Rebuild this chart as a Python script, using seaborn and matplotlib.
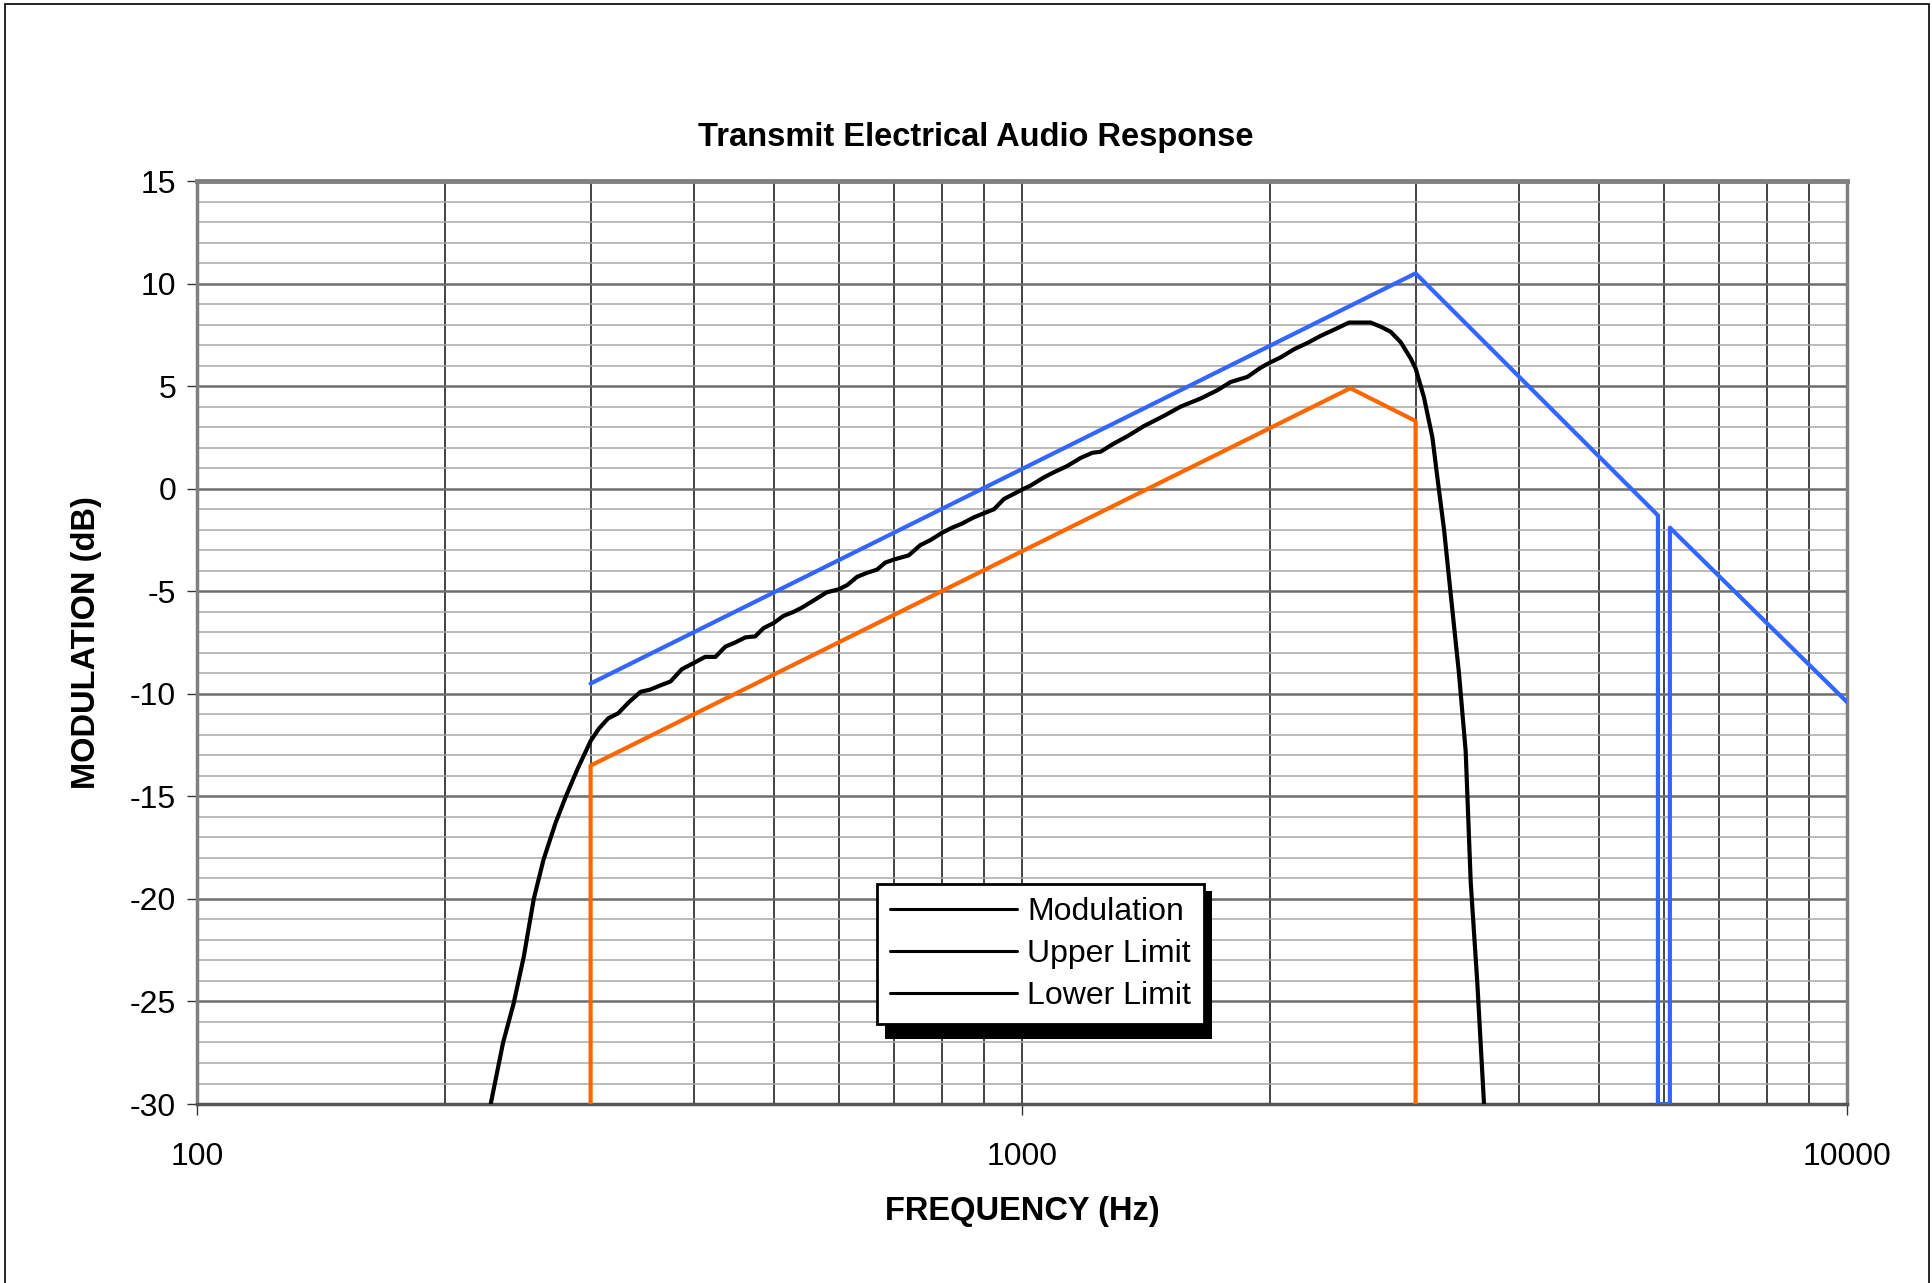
import numpy as np
import pandas as pd
import matplotlib
matplotlib.use('Agg')
import matplotlib.pyplot as plt
import matplotlib.patches as patches
from matplotlib.lines import Line2D
from matplotlib.ticker import LogLocator, NullFormatter
import seaborn as sns

# Values
mod_freq = [227, 235, 242, 249, 256, 263, 272, 280, 289, 300, 307, 315, 324, 334,
            345, 354, 364, 375, 387, 400, 413, 425, 437, 449, 462, 475, 486, 500,
            514, 529, 541, 559, 580, 600, 614, 631, 649, 667, 683, 700, 729, 753,
            775, 800, 823, 846, 874, 899, 925, 951, 978, 1000, 1024, 1063, 1093,
            1134, 1178, 1217, 1245, 1292, 1341, 1405, 1486, 1557, 1647, 1725, 1790,
            1876, 1947, 1998, 2058, 2137, 2217, 2301, 2389, 2491, 2574, 2646, 2721,
            2798, 2877, 2959, 3001, 3071, 3144, 3189, 3248, 3308, 3386, 3450, 3499,
            3564, 3631]
mod_db = [-30.0, -27.0, -25.1, -22.8, -20.0, -18.1, -16.3, -15.0, -13.7, -12.3, -11.7,
          -11.2, -10.95, -10.4, -9.9, -9.8, -9.6, -9.4, -8.8, -8.5, -8.2, -8.2, -7.7,
          -7.5, -7.25, -7.2, -6.8, -6.55, -6.2, -6.0, -5.8, -5.45, -5.05, -4.9, -4.7,
          -4.3, -4.1, -3.95, -3.6, -3.45, -3.25, -2.75, -2.5, -2.15, -1.9, -1.7, -1.4,
          -1.2, -1.0, -0.5, -0.25, -0.05, 0.15, 0.55, 0.8, 1.1, 1.5, 1.75, 1.8, 2.2,
          2.55, 3.05, 3.55, 4.0, 4.4, 4.8, 5.2, 5.45, 5.9, 6.15, 6.4, 6.8, 7.1, 7.45,
          7.75, 8.1, 8.1, 8.1, 7.9, 7.65, 7.15, 6.35, 5.85, 4.45, 2.5, 0.5, -2.0,
          -5.1, -9.0, -12.8, -19.2, -24.1, -30.0]

upper_freq = [300, 3000, 5900, 5900, 6100, 6100, 10000]
upper_db = [-9.5, 10.5, -1.3, -30.0, -30.0, -1.9, -10.4]

lower_freq = [300, 300, 2500, 3000, 3000]
lower_db = [-30.0, -13.5, 4.9, 3.3, -30.0]

series_names = ['Modulation', 'Upper Limit', 'Lower Limit']
series_colors = ['black', '#3366FF', '#FF6600']

y_ticks = list(range(-30, 16, 5))
x_ticks = [100, 1000, 10000]
x_tick_labels = ['100', '1000', '10000']

sns.set_style('white')
plt.rcParams['font.family'] = ['Liberation Sans', 'DejaVu Sans']
plt.rcParams['axes.unicode_minus'] = False
plt.rcParams['text.color'] = 'black'
plt.rcParams['axes.labelcolor'] = 'black'
plt.rcParams['xtick.color'] = 'black'
plt.rcParams['ytick.color'] = 'black'

fig = plt.figure(figsize=(19.33, 12.83), dpi=100)
ax = fig.add_axes([0.1019, 0.1395, 0.8536, 0.7194])

mod_df = pd.DataFrame({'freq': mod_freq, 'db': mod_db})
upper_df = pd.DataFrame({'freq': upper_freq, 'db': upper_db})
lower_df = pd.DataFrame({'freq': lower_freq, 'db': lower_db})

for df, color in zip([lower_df, upper_df, mod_df], [series_colors[2], series_colors[1], series_colors[0]]):
    sns.lineplot(data=df, x='freq', y='db', ax=ax, color=color, lw=3.0,
                 estimator=None, sort=False, legend=False, zorder=3)

ax.set_xscale('log')
ax.set_xlim(100, 10000)
ax.set_ylim(-30, 15)

# grid
ax.set_yticks(y_ticks)
ax.set_yticks(range(-30, 16), minor=True)
ax.set_xticks(x_ticks, labels=x_tick_labels)
ax.xaxis.set_minor_locator(LogLocator(base=10, subs=np.arange(2, 10)))
ax.xaxis.set_minor_formatter(NullFormatter())
ax.grid(which='minor', axis='y', color='#a8a8a8', lw=1.1, zorder=0)
ax.grid(which='major', axis='y', color='#6e6e6e', lw=1.8, zorder=0)
ax.grid(which='both', axis='x', color='#111111', lw=1.1, zorder=0)
ax.set_axisbelow(True)

ax.tick_params(axis='y', which='major', direction='out', left=True, length=7, width=1,
               color='#333333', pad=8, labelsize=23)
ax.tick_params(axis='x', which='major', direction='out', bottom=True, length=8, width=1,
               color='#333333', pad=19, labelsize=23)
ax.tick_params(which='minor', length=0)

for side in ['left', 'right', 'top', 'bottom']:
    ax.spines[side].set_visible(True)
    ax.spines[side].set_color('#808080')
    ax.spines[side].set_linewidth(2.5)
ax.spines['top'].set_linewidth(3.5)
ax.spines['bottom'].set_color('#555555')

ax.set_title('Transmit Electrical Audio Response', fontsize=23.5, fontweight='bold',
             x=0.472, pad=25)
ax.set_xlabel('FREQUENCY (Hz)', fontsize=23.5, fontweight='bold')
ax.set_ylabel('MODULATION (dB)', fontsize=23.5, fontweight='bold')
ax.xaxis.set_label_coords(0.5, -0.10)
ax.yaxis.set_label_coords(-0.0575, 0.5)

# legend (all handles drawn black, as in the reference)
handles = [Line2D([0], [0], color='black', lw=2.2) for _ in series_names]
leg = ax.legend(handles, series_names, loc='upper left', bbox_to_anchor=(0.412, 0.238),
                borderaxespad=0, fontsize=23, handlelength=4.0, handletextpad=0.3,
                labelspacing=0.38, borderpad=0.4, fancybox=False, framealpha=1,
                edgecolor='black')
leg.get_frame().set_linewidth(2)
leg.set_zorder(6)

# hard drop shadow behind the legend box
fig.canvas.draw()
bb = leg.get_window_extent()
# the reference box has a little more room under the last row
box = leg.get_frame()
box.set_height(box.get_height() + 8)
box.set_y(box.get_y() - 8)
shadow = patches.Rectangle((bb.x0 + 8, bb.y0 - 15), bb.width, bb.height + 8, transform=None,
                           facecolor='black', edgecolor='none', zorder=5.5, clip_on=False)
ax.add_artist(shadow)

# thin border around the whole figure
fig.add_artist(patches.Rectangle((5 / 1933, -0.01), 1924 / 1933, 1.0 - 3.5 / 1283 + 0.01,
                                 transform=fig.transFigure, fill=False, edgecolor='black',
                                 lw=1.2))

fig.savefig('out.png', dpi=100)
